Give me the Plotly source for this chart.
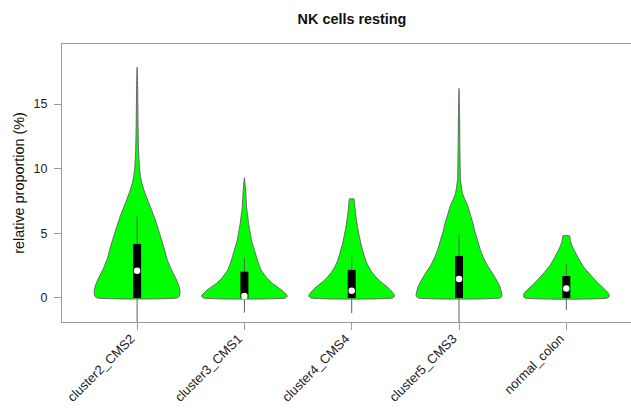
import plotly.graph_objects as go

# ---------------- data ----------------
categories = ["cluster2_CMS2", "cluster3_CMS1", "cluster4_CMS4", "cluster5_CMS3", "normal_colon"]

# violin outlines: y levels (%) and relative density (1 = widest)
c2_y = [0, 0.15, 0.5, 0.9, 1.39, 2.0, 2.42, 3.0, 3.71, 4.5, 5.0, 5.6, 6.29, 7.0, 7.58, 8.2, 8.87, 9.5, 10.0, 11.45, 13.0, 15.0, 16.5, 17.84]
c2_d = [40, 42.5, 43, 42, 39.5, 35.5, 33, 30, 27.5, 24.5, 22.5, 20, 17, 13.5, 10.5, 7.5, 4.8, 3.2, 2.4, 1.4, 1, 0.7, 0.5, 0]

c3_y = [0, 0.15, 0.5, 0.8, 1.13, 1.5, 1.91, 2.2, 2.6, 2.94, 3.2, 3.6, 3.97, 4.5, 5.0, 5.3, 5.78, 6.5, 7.0, 7.6, 8.5, 9.3]
c3_d = [41, 43, 39, 34, 28, 23, 19, 16.5, 14.5, 13, 12, 10.5, 9, 7, 6, 5.2, 4.2, 3, 2.2, 1.8, 1.0, 0]

c4_y = [0, 0.15, 0.36, 0.75, 1.26, 1.6, 2.03, 2.4, 2.81, 3.4, 4.1, 4.8, 5.39, 6.0, 6.68, 7.2, 7.55, 7.66]
c4_d = [41, 43, 41.7, 37, 29, 24.5, 20, 17, 14.5, 12, 9.5, 7.5, 6, 4.8, 3.6, 3, 2.6, 2.3]

c5_y = [0, 0.15, 0.36, 0.87, 1.4, 1.91, 2.5, 3.2, 3.8, 4.49, 5.1, 5.78, 6.4, 7.06, 7.6, 8.1, 9.13, 10.5, 12.0, 14.0, 16.2]
c5_d = [41, 43, 42.7, 41, 37.5, 33.5, 28.5, 24, 21, 18.5, 16, 14, 11.5, 9, 6, 3.5, 1.5, 1.1, 0.8, 0.6, 0]

nc_y = [0, 0.15, 0.36, 0.75, 1.0, 1.39, 1.52, 2.0, 2.42, 2.8, 3.07, 3.4, 3.7, 3.97, 4.3, 4.6, 4.8]
nc_d = [41, 42.5, 41.7, 37, 33.5, 28.5, 27, 21.5, 17, 14, 12, 9.8, 7.7, 6.2, 4.6, 3.7, 3.4]

# box statistics
q1 = [0, 0, 0, 0, 0]
q3 = [4.18, 2.03, 2.17, 3.25, 1.70]
medians = [2.11, 0.15, 0.55, 1.47, 0.73]
whisk_hi = [6.29, 3.07, 3.30, 4.87, 2.60]
whisk_lo = [-2.5, -1.13, -1.18, -2.5, -0.93]

violin_y = [c2_y, c3_y, c4_y, c5_y, nc_y]
violin_d = [c2_d, c3_d, c4_d, c5_d, nc_d]

# ---------------- figure ----------------
positions = list(range(1, len(categories) + 1))
HALF = 0.4  # max half width of a violin in axis units
FONT = "Liberation Sans, Arial, Helvetica, sans-serif"

fig = go.Figure()

for pos, ys, ds in zip(positions, violin_y, violin_d):
    m = max(ds)
    left = [pos - d / m * HALF for d in ds]
    right = [pos + d / m * HALF for d in ds]
    xs = left + right[::-1] + [left[0]]
    yy = list(ys) + list(ys[::-1]) + [ys[0]]
    fig.add_trace(go.Scatter(
        x=xs, y=yy, mode="lines", fill="toself",
        fillcolor="#00FF00",
        line=dict(color="#666666", width=1, shape="spline", smoothing=0.5),
        hoverinfo="skip", showlegend=False,
    ))

# whiskers
wx, wy = [], []
for pos, lo, hi in zip(positions, whisk_lo, whisk_hi):
    wx += [pos, pos, None]
    wy += [lo, hi, None]
fig.add_trace(go.Scatter(x=wx, y=wy, mode="lines",
                         line=dict(color="#606060", width=1),
                         hoverinfo="skip", showlegend=False))

# boxes (thick segments from q1 to q3)
bx, by = [], []
for pos, a, b in zip(positions, q1, q3):
    bx += [pos, pos, None]
    by += [a, b, None]
fig.add_trace(go.Scatter(x=bx, y=by, mode="lines",
                         line=dict(color="black", width=8),
                         hoverinfo="skip", showlegend=False))

# medians
fig.add_trace(go.Scatter(
    x=positions, y=medians, mode="markers",
    marker=dict(color="white", size=6.5, line=dict(width=0)),
    hoverinfo="skip", showlegend=False,
))

W, H = 631, 412
L, T, B = 62, 44, 90
fig.update_layout(
    width=W, height=H,
    margin=dict(l=L, r=0, t=T, b=B, pad=0),
    paper_bgcolor="white", plot_bgcolor="white",
    font=dict(family=FONT, size=12, color="#222222"),
    title=dict(text="<b>NK cells resting</b>",
               font=dict(family=FONT, size=14.4, color="#111111"),
               xref="container", x=352 / W, xanchor="center",
               yref="container", y=1 - 19 / H, yanchor="middle"),
    xaxis=dict(
        range=[0.3, 0.3 + (W - L) / 107.3],
        tickmode="array", tickvals=positions, ticktext=categories,
        tickangle=-45, ticks="outside", ticklen=7, tickcolor="#9a9a9a",
        tickfont=dict(family=FONT, size=13, color="#222222"),
        ticklabelshift=-6, ticklabelstandoff=-4,
        showline=True, linecolor="#9a9a9a", linewidth=1, mirror=True,
        showgrid=False, zeroline=False,
    ),
    yaxis=dict(
        range=[-1.86, 19.64],
        tickmode="array", tickvals=[0, 5, 10, 15],
        ticks="outside", ticklen=7, tickcolor="#9a9a9a",
        tickfont=dict(family=FONT, size=12.5, color="#222222"),
        ticklabelstandoff=4,
        showline=True, linecolor="#9a9a9a", linewidth=1, mirror=False,
        showgrid=False, zeroline=False,
        title=dict(text="relative proportion (%)",
                   font=dict(family=FONT, size=14.4, color="#111111"),
                   standoff=5),
    ),
)

fig.write_html("out.html")
